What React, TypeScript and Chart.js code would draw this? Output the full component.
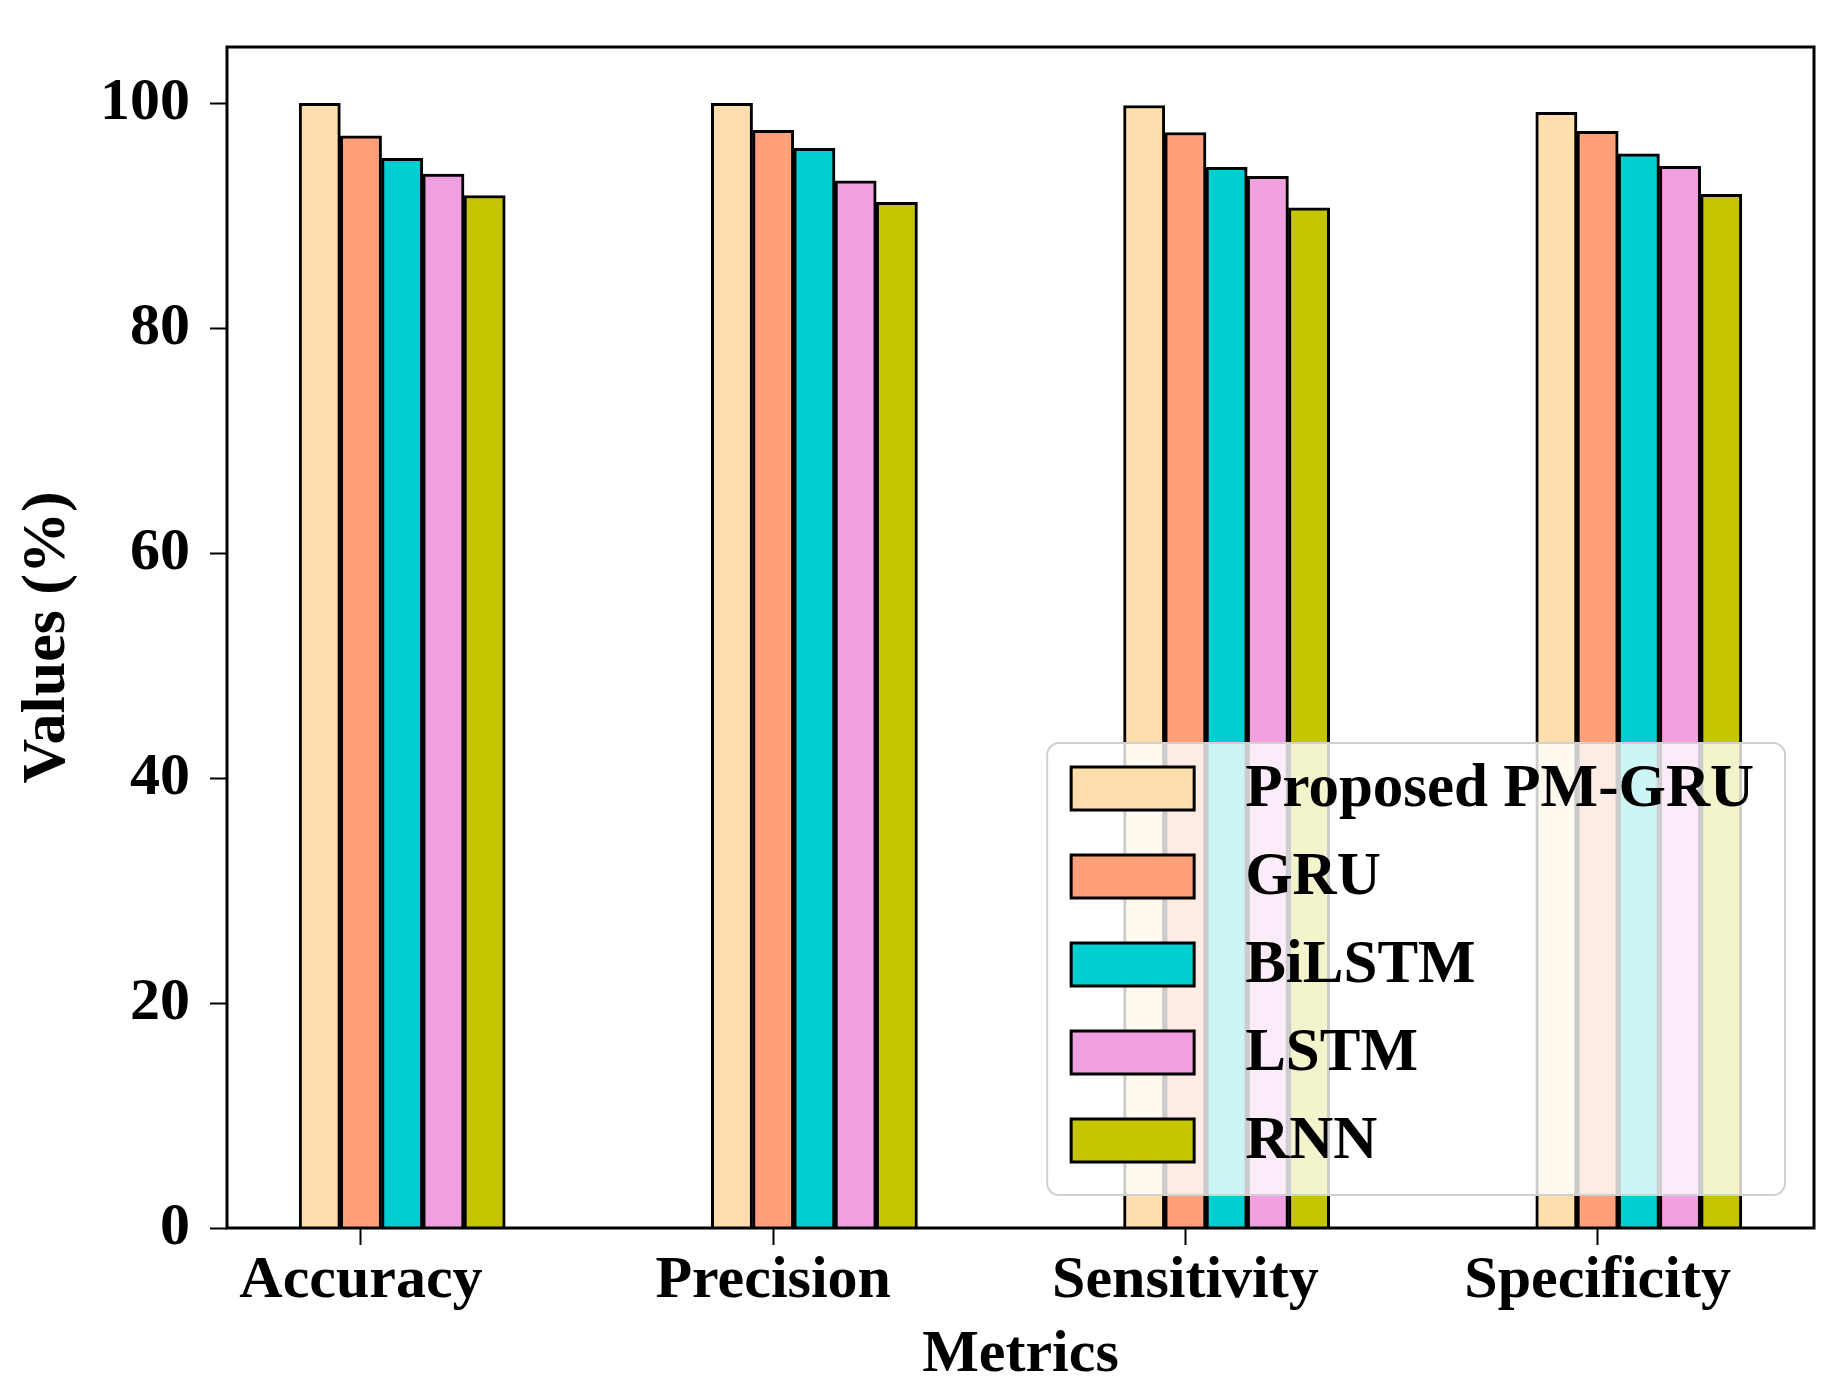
import { useEffect, useRef } from 'react';
import { Chart, registerables } from 'chart.js';

Chart.register(...registerables);

const FONT = "'Liberation Serif', 'Times New Roman', serif";

// Data
const metrics = ['Accuracy', 'Precision', 'Sensitivity', 'Specificity'];
const models = ['Proposed PM-GRU', 'GRU', 'BiLSTM', 'LSTM', 'RNN'];
const proposedValues = [100.0, 100.0, 99.8, 99.2];
const gruValues = [97.1, 97.6, 97.4, 97.5];
const bilstmValues = [95.1, 96.0, 94.3, 95.5];
const lstmValues = [93.7, 93.1, 93.5, 94.4];
const rnnValues = [91.8, 91.2, 90.7, 91.9];
const yTicks = [0, 20, 40, 60, 80, 100];

const seriesValues = [proposedValues, gruValues, bilstmValues, lstmValues, rnnValues];
const colors = ['#FFDEAD', '#FFA07A', '#00CED1', '#F0A0E0', '#C4C400'];

// bar width in category units; first bar sits one width left of the tick
const BAR_W = 0.1;

// Draw the full box around the plot area
const framePlugin = {
  id: 'frame',
  afterDatasetsDraw(chart: any) {
    const { ctx, chartArea } = chart;
    ctx.save();
    ctx.strokeStyle = '#000';
    ctx.lineWidth = 3;
    ctx.strokeRect(chartArea.left, chartArea.top, chartArea.right - chartArea.left, chartArea.bottom - chartArea.top);
    ctx.restore();
  },
};

// matplotlib-like legend in the lower right, drawn over the bars
const legendPlugin = {
  id: 'boxLegend',
  afterDatasetsDraw(chart: any) {
    const { ctx, chartArea } = chart;
    const sets = chart.data.datasets;
    const rowGap = 88;
    const swW = 123;
    const swH = 43;
    ctx.save();
    ctx.font = `bold 61px ${FONT}`;
    const textW = Math.max(...sets.map((d: any) => ctx.measureText(d.label).width));
    const w = 24 + swW + 51 + textW + 31;
    const h = 24 + swH + rowGap * (sets.length - 1) + 33;
    const x = chartArea.right - 29 - w;
    const y = chartArea.bottom - 33 - h;

    ctx.beginPath();
    ctx.roundRect(x, y, w, h, 12);
    ctx.fillStyle = 'rgba(255,255,255,0.8)';
    ctx.fill();
    ctx.strokeStyle = '#d0d0d0';
    ctx.lineWidth = 2;
    ctx.stroke();

    sets.forEach((d: any, i: number) => {
      const sy = y + 24 + i * rowGap;
      ctx.fillStyle = d.backgroundColor;
      ctx.fillRect(x + 24, sy, swW, swH);
      ctx.strokeStyle = '#000';
      ctx.lineWidth = 3;
      ctx.strokeRect(x + 24, sy, swW, swH);
      ctx.fillStyle = '#000';
      ctx.textBaseline = 'middle';
      ctx.textAlign = 'left';
      ctx.fillText(d.label, x + 24 + swW + 51, sy + swH / 2 + 2);
    });
    ctx.restore();
  },
};

export default function App() {
  const chartRef = useRef<HTMLCanvasElement>(null);
  const chartInstance = useRef<Chart | null>(null);

  useEffect(() => {
    if (!chartRef.current) return;
    const ctx = chartRef.current.getContext('2d');
    if (!ctx) return;
    if (chartInstance.current) chartInstance.current.destroy();

    const datasets = models.map((name, k) => ({
      label: name,
      data: metrics.map((_, i) => ({ x: i + (k - 1) * BAR_W, y: seriesValues[k][i] })),
      backgroundColor: colors[k],
      borderColor: '#000',
      borderWidth: 3,
      grouped: false,
      categoryPercentage: 1,
      barPercentage: 1,
    }));

    chartInstance.current = new Chart(ctx, {
      type: 'bar',
      data: { datasets },
      plugins: [framePlugin, legendPlugin],
      options: {
        responsive: false,
        animation: false,
        layout: { padding: { top: 47, right: 30, left: 0, bottom: 0 } },
        plugins: {
          legend: { display: false },
          tooltip: { enabled: false },
        },
        scales: {
          x: {
            type: 'linear',
            min: -0.325,
            max: 3.525,
            offset: false,
            afterBuildTicks: (scale: any) => {
              scale.ticks = metrics.map((_, i) => ({ value: i }));
            },
            afterFit: (scale: any) => {
              scale.height = 172;
            },
            grid: {
              offset: false,
              drawOnChartArea: false,
              drawTicks: true,
              tickLength: 17,
              tickColor: '#000',
              tickWidth: 2,
            },
            border: { display: false },
            ticks: {
              autoSkip: false,
              maxRotation: 0,
              padding: 0,
              color: '#000',
              font: { family: FONT, size: 60, weight: 'bold' },
              callback: (v: any) => metrics[v] ?? '',
            },
            title: {
              display: true,
              text: 'Metrics',
              color: '#000',
              font: { family: FONT, size: 60, weight: 'bold' },
              padding: { top: 0, bottom: 9 },
            },
          },
          y: {
            min: 0,
            max: 105,
            afterBuildTicks: (scale: any) => {
              scale.ticks = yTicks.map((v) => ({ value: v }));
            },
            afterFit: (scale: any) => {
              scale.width = 227;
              scale.paddingTop = 0;
              scale.paddingBottom = 0;
            },
            grid: {
              drawOnChartArea: false,
              drawTicks: true,
              tickLength: 17,
              tickColor: '#000',
              tickWidth: 2,
            },
            border: { display: false },
            ticks: {
              padding: 20,
              color: '#000',
              font: { family: FONT, size: 60, weight: 'bold' },
            },
            title: {
              display: true,
              text: 'Values (%)',
              color: '#000',
              font: { family: FONT, size: 62, weight: 'bold' },
              padding: { top: 11, bottom: 0 },
            },
          },
        },
      } as any,
    });

    return () => {
      if (chartInstance.current) {
        chartInstance.current.destroy();
        chartInstance.current = null;
      }
    };
  }, []);

  return (
    <div style={{ position: 'absolute', left: 0, top: 0, width: 1844, height: 1400, background: '#fff' }}>
      <canvas ref={chartRef} width={1844} height={1400}></canvas>
    </div>
  );
}
